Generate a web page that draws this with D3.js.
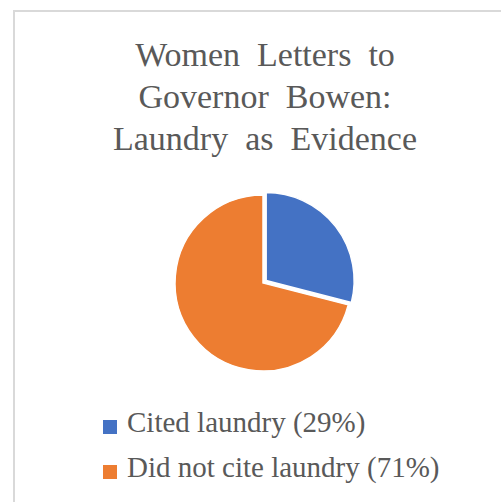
<!DOCTYPE html>
<html><head><meta charset="utf-8">
<script src="https://cdn.jsdelivr.net/npm/d3@7"></script>
<style>html,body{margin:0;padding:0;background:#fff;}svg{display:block;}
.serif{font-family:"Liberation Serif","Times New Roman",Times,"Tinos","DejaVu Serif",serif;}</style>
</head><body>
<script>
const titleLines = ["Women  Letters  to", "Governor  Bowen:", "Laundry  as  Evidence"];
const categories = ["Cited laundry", "Did not cite laundry"];
const values = [29, 71];
const colors = ["#4472C4", "#ED7D31"];
const explode = [4, 0];

const W = 501, H = 502;
const svg = d3.select("body").append("svg").attr("width", W).attr("height", H);

// frame (left and top edges)
svg.append("path").attr("d", `M14,${H} V11 H${W}`).attr("fill", "none")
  .attr("stroke", "#d9d9d9").attr("stroke-width", 2);

svg.append("g").selectAll("text").data(titleLines).join("text")
  .attr("class", "serif")
  .attr("x", 265).attr("y", (d, i) => 66 + i * 42)
  .attr("text-anchor", "middle")
  .attr("font-size", 34).attr("fill", "#595959")
  .style("white-space", "pre").text(d => d);

const pie = d3.pie().sort(null).value(d => d);
const arcs = pie(values);
const r = 88;
const arc = d3.arc().innerRadius(0).outerRadius(r);
const g = svg.append("g").attr("transform", "translate(263,283)");
g.selectAll("path").data(arcs).join("path")
  .attr("d", arc)
  .attr("fill", (d, i) => colors[i])
  .attr("stroke", "#fff").attr("stroke-width", 1.5)
  .attr("transform", (d, i) => {
    const a = (d.startAngle + d.endAngle) / 2;
    return `translate(${Math.sin(a) * explode[i]},${-Math.cos(a) * explode[i]})`;
  });

const total = d3.sum(values);
const leg = svg.append("g").selectAll("g").data(categories).join("g")
  .attr("transform", (d, i) => `translate(103,${420 + i * 45})`);
leg.append("rect").attr("width", 14).attr("height", 14).attr("fill", (d, i) => colors[i]);
leg.append("text").attr("class", "serif").attr("x", 24).attr("y", 12)
  .attr("font-size", 29).attr("fill", "#595959")
  .text((d, i) => `${d} (${Math.round(values[i] / total * 100)}%)`);
</script>
</body></html>
